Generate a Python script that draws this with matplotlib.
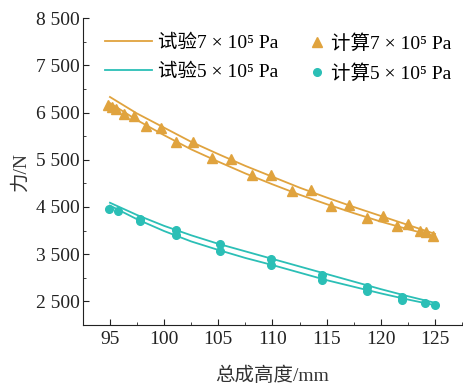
import matplotlib
matplotlib.use("Agg")
import matplotlib.pyplot as plt
from matplotlib.ticker import MultipleLocator, FuncFormatter

plt.rcParams['font.family'] = ['Liberation Serif', 'Noto Sans CJK SC']

orange = '#E0A33E'
teal = '#2BBFB6'

# test curves (two branches each)
x_line = [95, 97.5, 100, 102.5, 105, 107.5, 110, 112.5, 115, 117.5, 120, 122.5, 125]
y7_upper = [6830, 6480, 6180, 5880, 5620, 5370, 5140, 4910, 4700, 4500, 4310, 4120, 3930]
y7_lower = [6700, 6340, 6020, 5720, 5460, 5210, 4980, 4760, 4560, 4370, 4190, 4030, 3880]
y5_upper = [4590, 4330, 4100, 3900, 3720, 3560, 3400, 3240, 3080, 2920, 2760, 2610, 2470]
y5_lower = [4530, 4240, 3990, 3770, 3590, 3420, 3270, 3110, 2950, 2810, 2670, 2540, 2420]

# computed points
x7_calc = [94.8, 95.2, 95.6, 96.3, 97.2, 98.3, 99.7, 101.1, 102.7, 104.4, 106.2, 108.1,
           109.9, 111.8, 113.6, 115.4, 117.1, 118.7, 120.2, 121.5, 122.5, 123.6, 124.2, 124.8]
y7_calc = [6662, 6620, 6577, 6472, 6430, 6218, 6183, 5866, 5866, 5536, 5515, 5183,
           5168, 4845, 4851, 4528, 4543, 4268, 4317, 4090, 4148, 3985, 3972, 3894]
x5_calc = [94.9, 95.7, 97.8, 97.8, 101.1, 101.1, 105.2, 105.2, 109.9, 109.9, 114.6, 114.6,
           118.7, 118.7, 122.0, 122.0, 124.1, 125.0]
y5_calc = [4458, 4408, 4247, 4197, 4006, 3900, 3725, 3577, 3402, 3275, 3064, 2950,
           2810, 2711, 2590, 2527, 2457, 2415]

fig = plt.figure(figsize=(4.63, 3.86), dpi=100)
ax = fig.add_axes([0.179, 0.158, 0.819, 0.795])

l1, = ax.plot(x_line, y7_upper, color=orange, lw=1.3, label='试验7 × 10⁵ Pa')
ax.plot(x_line, y7_lower, color=orange, lw=1.3)
l2, = ax.plot(x_line, y5_upper, color=teal, lw=1.3, label='试验5 × 10⁵ Pa')
ax.plot(x_line, y5_lower, color=teal, lw=1.3)
p1, = ax.plot(x7_calc, y7_calc, '^', color=orange, ms=6.5, ls='none', label='计算7 × 10⁵ Pa')
p2, = ax.plot(x5_calc, y5_calc, 'o', color=teal, ms=5.5, ls='none', label='计算5 × 10⁵ Pa')

ax.set_xlim(92.5, 127.5)
ax.set_ylim(2000, 8500)
ax.xaxis.set_major_locator(MultipleLocator(5))
ax.xaxis.set_minor_locator(MultipleLocator(2.5))
ax.set_yticks([2500, 3500, 4500, 5500, 6500, 7500, 8500])
ax.yaxis.set_minor_locator(MultipleLocator(500))
ax.yaxis.set_major_formatter(FuncFormatter(lambda v, p: f'{int(v) // 1000} {int(v) % 1000:03d}'))
ax.tick_params(which='both', direction='in', labelsize=14, colors='#222222')
ax.tick_params(which='major', length=4)
ax.tick_params(which='minor', length=2.5)
ax.tick_params(axis='y', pad=2)
ax.tick_params(axis='x', pad=4)
for s in ['top', 'right']:
    ax.spines[s].set_visible(False)
for s in ['left', 'bottom']:
    ax.spines[s].set_color('#222222')

ax.set_xlabel('总成高度/mm', fontsize=14, color='#333333', labelpad=14)
ax.set_ylabel('力/N', fontsize=14, color='#333333', labelpad=4.5)

kw = dict(frameon=False, fontsize=14, handletextpad=0.3, labelspacing=0.6,
          borderpad=0, borderaxespad=0, loc='upper left', bbox_transform=fig.transFigure)
leg1 = ax.legend(handles=[l1, l2], handlelength=2.4, bbox_to_anchor=(0.227, 0.912), **kw)
ax.add_artist(leg1)
ax.legend(handles=[p1, p2], handlelength=0.8, bbox_to_anchor=(0.668, 0.912), **kw)

fig.savefig('out.png', dpi=100)
